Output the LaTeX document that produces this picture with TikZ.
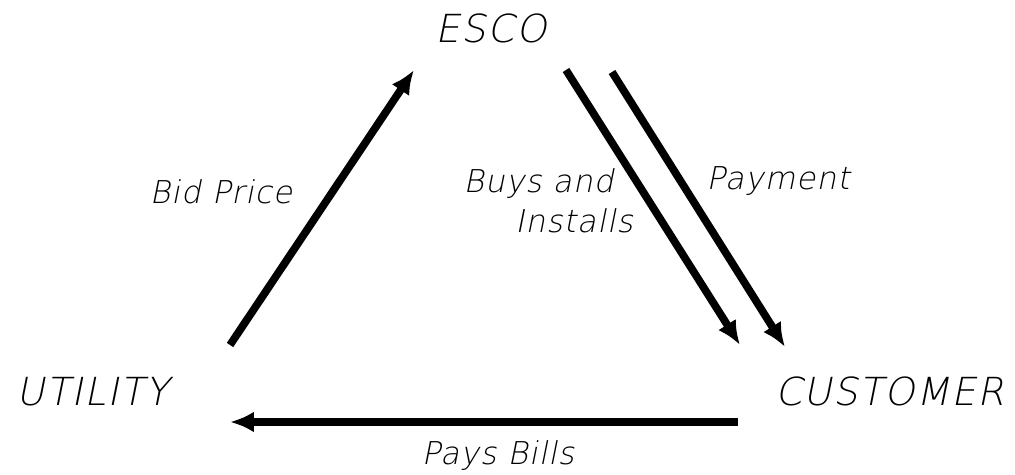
\documentclass[tikz,border=0pt]{standalone}
\usepackage{fontspec}
\setmainfont{Liberation Sans}
\newfontfamily\labelfont[LetterSpace=4,FakeSlant=0.2]{DejaVu Sans ExtraLight}
\newfontfamily\smallfont[LetterSpace=3,FakeSlant=0.2]{DejaVu Sans ExtraLight}
\usetikzlibrary{arrows.meta}

\begin{document}
\begin{tikzpicture}[x=0.02cm,y=-0.02cm,>={Latex[length=0.48cm,width=0.42cm]},
  flow/.style={->,line width=4.4pt},
  party/.style={anchor=base,inner sep=0pt,font=\labelfont\fontsize{22}{26}\selectfont},
  lbl/.style={anchor=base,inner sep=0pt,font=\smallfont\fontsize{17.9}{23.3}\selectfont,align=left}]
  \useasboundingbox (0,0) rectangle (1015,475);
  % the three parties
  \node[party] (esco) at (491,43) {ESCO};
  \node[party] (util) at (93,406) {UTILITY};
  \node[party] (cust) at (890,406) {CUSTOMER};
  % arrow ends
  \coordinate (bidA) at (230,345);
  \coordinate (bidB) at (414,70);
  \coordinate (buyA) at (566,70);
  \coordinate (buyB) at (740,345);
  \coordinate (payA) at (612,72);
  \coordinate (payB) at (785,347);
  \coordinate (billA) at (738,422);
  \coordinate (billB) at (230,422);
  \draw[flow] (bidA) -- (bidB);
  \draw[flow] (buyA) -- (buyB);
  \draw[flow] (payA) -- (payB);
  \draw[flow] (billA) -- (billB);
  % labels
  \node[lbl] (bid) at (221,204) {Bid Price};
  \node[lbl,anchor=base west] (buy) at (463,233) {Buys and\\\hspace*{1.65em}Installs};
  \node[lbl] (pay) at (778,190) {Payment};
  \node[lbl] (bill) at (498,465) {Pays Bills};
\end{tikzpicture}
\end{document}
